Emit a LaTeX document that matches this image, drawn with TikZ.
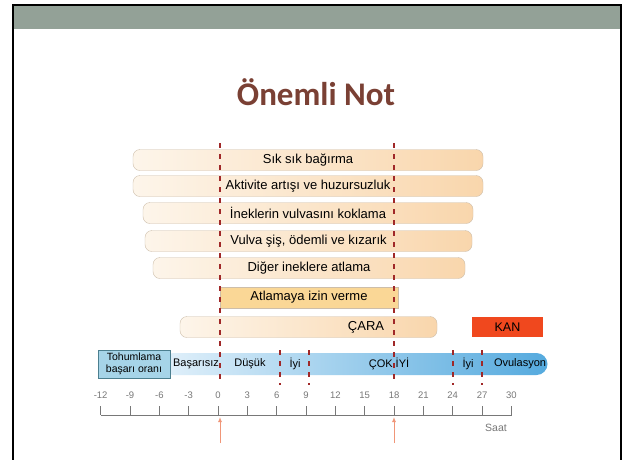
\documentclass[tikz,border=0pt]{standalone}
\usepackage{fontspec}
\setmainfont{Liberation Sans}
\newfontfamily\titlefont{Carlito}
\usepackage{tikz}
\usetikzlibrary{positioning}
\usetikzlibrary{arrows.meta}
\definecolor{bandgray}{RGB}{147,161,151}
\definecolor{titlebrown}{RGB}{122,64,52}
\definecolor{barleft}{RGB}{253,245,234}
\definecolor{barright}{RGB}{249,214,172}
\definecolor{barline}{RGB}{205,190,170}
\definecolor{mountfill}{RGB}{250,215,150}
\definecolor{kanred}{RGB}{240,72,30}
\definecolor{cutred}{RGB}{160,40,40}
\definecolor{blueleft}{RGB}{225,240,250}
\definecolor{blueright}{RGB}{85,170,222}
\definecolor{boxblue}{RGB}{166,212,232}
\definecolor{boxline}{RGB}{76,127,143}
\definecolor{axisgray}{RGB}{120,120,120}
\definecolor{arrowpeach}{RGB}{240,150,120}
\tikzstyle{sign}=[draw=barline, rounded corners=7pt, left color=barleft, right color=barright, minimum height=21pt, inner sep=0pt, font=\fontsize{13}{15}\selectfont]
\tikzstyle{rate}=[inner sep=0pt, font=\fontsize{11}{13}\selectfont]
\tikzstyle{cut}=[draw=cutred, line width=2.4pt, dash pattern=on 5pt off 6pt]
\tikzstyle{tick}=[inner sep=0pt, text=axisgray, font=\fontsize{9.5}{11}\selectfont]

\begin{document}
\begin{tikzpicture}[x=1pt, y=-1pt]
				
				\useasboundingbox (0,0) rectangle (623,459);
				\fill [white] (0,0) rectangle (623,459);
				
				% slide frame
				\fill [bandgray] (13,5) rectangle (621,29);
				\draw [line width=2.5pt] (13,470) -- (13,5) -- (621,5) -- (621,470);
				\node (title) at (316,92) [text=titlebrown, font=\titlefont\bfseries\fontsize{33}{36}\selectfont] {Önemli Not};
				
				% signs
				\node (s1) [sign, minimum width=350pt] at (308,160) {Sık sık bağırma};
				\node (s2) [sign, minimum width=350pt] at (308,186) {Aktivite artışı ve huzursuzluk};
				\node (s3) [sign, minimum width=330pt] at (308,213) {İneklerin vulvasını koklama};
				\node (s4) [sign, minimum width=327pt] at (308.5,241) {Vulva şiş, ödemli ve kızarık};
				\node (s5) [sign, minimum width=312pt] at (309,268) {Diğer ineklere atlama};
				\node (mount) [sign, rounded corners=0pt, draw=barline, left color=mountfill, right color=mountfill, minimum width=178pt] at (309,297.5) {Atlamaya izin verme};
				\node (cara) [sign, minimum width=257pt] at (308.5,327) {};
				\node (caratext) at (366,327) [inner sep=0pt, font=\fontsize{13}{15}\selectfont] {ÇARA};
				\node (kan) [fill=kanred, minimum width=71pt, minimum height=20pt, inner sep=0pt, font=\fontsize{12.5}{14}\selectfont] at (507.5,327) {KAN};
				
				% success rate bar
				\node (rate) [rounded corners=11pt, left color=blueleft, right color=blueright, minimum width=385pt, minimum height=22pt, inner sep=0pt] at (355,364) {};
				\node (tohum) [draw=boxline, fill=boxblue, line width=1pt, minimum width=72pt, minimum height=28pt, inner sep=0pt, align=center, font=\fontsize{10.5}{11.5}\selectfont] at (134,364) {Tohumlama\\başarı oranı};
				\node (r1) [rate] at (196,364) {Başarısız};
				\node (r2) [rate] at (250,364) {Düşük};
				\node (r3) [rate] at (295,364) {İyi};
				\node (r4) [rate] at (389,364) {ÇOK İYİ};
				\node (r5) [rate] at (468,364) {İyi};
				\node (r6) [rate] at (520,364) {Ovulasyon};
				
				% cut lines
				\draw [cut] (220,143) -- (220,384);
				\draw [cut] (394,143) -- (394,384);
				\foreach \x in {280,309,453,482}
					\draw [cut] (\x,350) -- (\x,385);
				
				% hour axis
				\coordinate (axl) at (101,415);
				\coordinate (axr) at (512,415);
				\draw [axisgray, line width=1pt] (axl) -- (axr);
				\foreach \t in {-12,-9,...,30}{
					\draw [axisgray, line width=0.8pt] (218+9.78*\t,406) -- (218+9.78*\t,415);
					\node [tick] at (218+9.78*\t,395) {\t};
				}
				\node (saat) [tick, font=\fontsize{10.5}{12}\selectfont] at (496,428) {Saat};
				
				% arrows
				\coordinate (a0) at (220,443);
				\coordinate (t0) at (220,417);
				\coordinate (a18) at (394,443);
				\coordinate (t18) at (394,417);
				\draw [arrowpeach, line width=1pt, -{Latex[length=5pt,width=4pt]}] (a0) -- (t0);
				\draw [arrowpeach, line width=1pt, -{Latex[length=5pt,width=4pt]}] (a18) -- (t18);
				\end{tikzpicture}
\end{document}
